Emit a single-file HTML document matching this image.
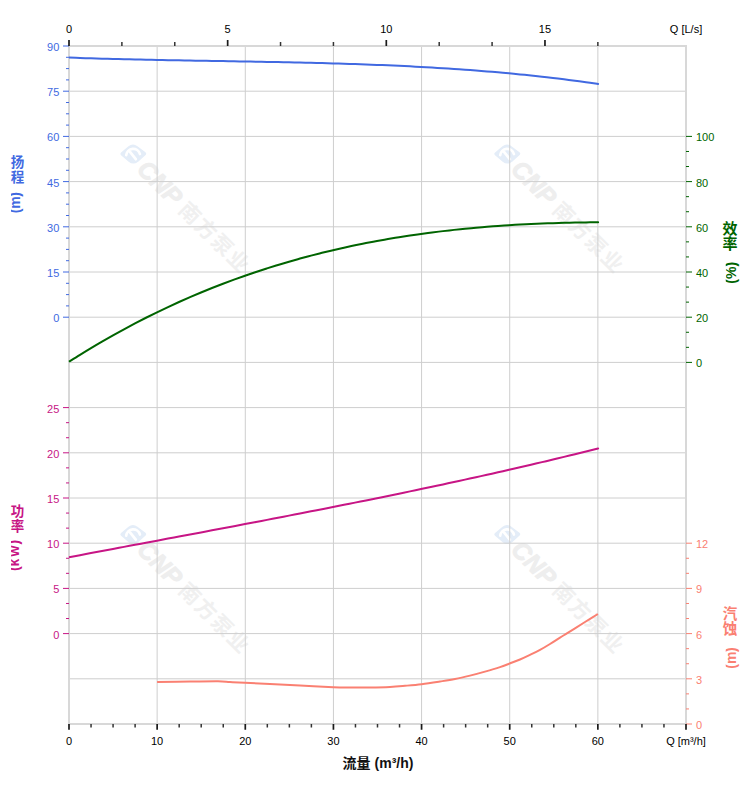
<!DOCTYPE html>
<html lang="zh"><head><meta charset="utf-8"><title>Pump performance curve</title>
<style>html,body{margin:0;padding:0;background:#fff}svg{display:block}text{font-family:"Liberation Sans",sans-serif}text.cjk{font-family:"Liberation Sans","Noto Sans CJK SC",sans-serif}</style>
</head><body>
<svg width="752" height="797" viewBox="0 0 752 797">
<rect width="752" height="797" fill="#fff"/>
<g transform="translate(0 0) rotate(45)"><g transform="rotate(-45)"><path d="M122.2 153.8L129.6 147.6Q132.9 145 136.4 147.6L144.4 153.6L137 160.3Q133.3 163.2 129.8 160.3Z" fill="#e4edf8" stroke="#e4edf8" stroke-width="3.6" stroke-linejoin="round"/><path d="M126.2 155.2A7 7 0 0 1 139.9 154M130 151.9L135.8 159.2" fill="none" stroke="#fff" stroke-width="2.7" stroke-linecap="round"/></g><text x="216.5" y="24.6" font-size="24.5" font-weight="bold" font-style="italic" fill="#eeeeee" stroke="#eeeeee" stroke-width="0.9">CNP</text><text class="cjk" x="274.5" y="23.8" font-size="21" font-weight="bold" letter-spacing="1.7" fill="#f0f0f0">南方泵业</text></g>
<g transform="translate(374 0) rotate(45)"><g transform="rotate(-45)"><path d="M122.2 153.8L129.6 147.6Q132.9 145 136.4 147.6L144.4 153.6L137 160.3Q133.3 163.2 129.8 160.3Z" fill="#e4edf8" stroke="#e4edf8" stroke-width="3.6" stroke-linejoin="round"/><path d="M126.2 155.2A7 7 0 0 1 139.9 154M130 151.9L135.8 159.2" fill="none" stroke="#fff" stroke-width="2.7" stroke-linecap="round"/></g><text x="216.5" y="24.6" font-size="24.5" font-weight="bold" font-style="italic" fill="#eeeeee" stroke="#eeeeee" stroke-width="0.9">CNP</text><text class="cjk" x="274.5" y="23.8" font-size="21" font-weight="bold" letter-spacing="1.7" fill="#f0f0f0">南方泵业</text></g>
<g transform="translate(0 380.5) rotate(45)"><g transform="rotate(-45)"><path d="M122.2 153.8L129.6 147.6Q132.9 145 136.4 147.6L144.4 153.6L137 160.3Q133.3 163.2 129.8 160.3Z" fill="#e4edf8" stroke="#e4edf8" stroke-width="3.6" stroke-linejoin="round"/><path d="M126.2 155.2A7 7 0 0 1 139.9 154M130 151.9L135.8 159.2" fill="none" stroke="#fff" stroke-width="2.7" stroke-linecap="round"/></g><text x="216.5" y="24.6" font-size="24.5" font-weight="bold" font-style="italic" fill="#eeeeee" stroke="#eeeeee" stroke-width="0.9">CNP</text><text class="cjk" x="274.5" y="23.8" font-size="21" font-weight="bold" letter-spacing="1.7" fill="#f0f0f0">南方泵业</text></g>
<g transform="translate(374 380.5) rotate(45)"><g transform="rotate(-45)"><path d="M122.2 153.8L129.6 147.6Q132.9 145 136.4 147.6L144.4 153.6L137 160.3Q133.3 163.2 129.8 160.3Z" fill="#e4edf8" stroke="#e4edf8" stroke-width="3.6" stroke-linejoin="round"/><path d="M126.2 155.2A7 7 0 0 1 139.9 154M130 151.9L135.8 159.2" fill="none" stroke="#fff" stroke-width="2.7" stroke-linecap="round"/></g><text x="216.5" y="24.6" font-size="24.5" font-weight="bold" font-style="italic" fill="#eeeeee" stroke="#eeeeee" stroke-width="0.9">CNP</text><text class="cjk" x="274.5" y="23.8" font-size="21" font-weight="bold" letter-spacing="1.7" fill="#f0f0f0">南方泵业</text></g>
<path d="M157.14 46V724M245.29 46V724M333.43 46V724M421.57 46V724M509.71 46V724M597.86 46V724M69 91.2H686M69 136.4H686M69 181.6H686M69 226.8H686M69 272H686M69 317.2H686M69 362.4H686M69 407.6H686M69 452.8H686M69 498H686M69 543.2H686M69 588.4H686M69 633.6H686M69 678.8H686" stroke="#cecece" stroke-width="1" fill="none"/>
<rect x="69" y="46" width="617" height="678" fill="none" stroke="#d8d8d8" stroke-width="2"/>
<path d="M63 46H69M66 57.3H69M66 68.6H69M66 79.9H69M63 91.2H69M66 102.5H69M66 113.8H69M66 125.1H69M63 136.4H69M66 147.7H69M66 159H69M66 170.3H69M63 181.6H69M66 192.9H69M66 204.2H69M66 215.5H69M63 226.8H69M66 238.1H69M66 249.4H69M66 260.7H69M63 272H69M66 283.3H69M66 294.6H69M66 305.9H69M63 317.2H69" stroke="#4169E1" stroke-width="1" fill="none"/>
<g font-size="11" fill="#4169E1"><text x="59.3" y="50.9" text-anchor="end">90</text><text x="59.3" y="96.1" text-anchor="end">75</text><text x="59.3" y="141.3" text-anchor="end">60</text><text x="59.3" y="186.5" text-anchor="end">45</text><text x="59.3" y="231.7" text-anchor="end">30</text><text x="59.3" y="276.9" text-anchor="end">15</text><text x="59.3" y="322.1" text-anchor="end">0</text></g>
<path d="M686 136.4H692M686 151.47H689M686 166.53H689M686 181.6H692M686 196.67H689M686 211.73H689M686 226.8H692M686 241.87H689M686 256.93H689M686 272H692M686 287.07H689M686 302.13H689M686 317.2H692M686 332.27H689M686 347.33H689M686 362.4H692" stroke="#006400" stroke-width="1" fill="none"/>
<g font-size="11" fill="#006400"><text x="696" y="141.3">100</text><text x="696" y="186.5">80</text><text x="696" y="231.7">60</text><text x="696" y="276.9">40</text><text x="696" y="322.1">20</text><text x="696" y="367.3">0</text></g>
<path d="M63 407.6H69M66 422.67H69M66 437.73H69M63 452.8H69M66 467.87H69M66 482.93H69M63 498H69M66 513.07H69M66 528.13H69M63 543.2H69M66 558.27H69M66 573.33H69M63 588.4H69M66 603.47H69M66 618.53H69M63 633.6H69" stroke="#C71585" stroke-width="1" fill="none"/>
<g font-size="11" fill="#C71585"><text x="59.3" y="412.5" text-anchor="end">25</text><text x="59.3" y="457.7" text-anchor="end">20</text><text x="59.3" y="502.9" text-anchor="end">15</text><text x="59.3" y="548.1" text-anchor="end">10</text><text x="59.3" y="593.3" text-anchor="end">5</text><text x="59.3" y="638.5" text-anchor="end">0</text></g>
<path d="M686 543.2H692M686 558.27H689M686 573.33H689M686 588.4H692M686 603.47H689M686 618.53H689M686 633.6H692M686 648.67H689M686 663.73H689M686 678.8H692M686 693.87H689M686 708.93H689M686 724H692" stroke="#FA8072" stroke-width="1" fill="none"/>
<g font-size="11" fill="#FA8072"><text x="696" y="548.1">12</text><text x="696" y="593.3">9</text><text x="696" y="638.5">6</text><text x="696" y="683.7">3</text><text x="696" y="728.9">0</text></g>
<path d="M69 724V729.7M157.14 724V729.7M245.29 724V729.7M333.43 724V729.7M421.57 724V729.7M509.71 724V729.7M597.86 724V729.7M686 724V729.7M69 40V46M227.66 40V46M386.31 40V46M544.97 40V46" stroke="#1a1a1a" stroke-width="1.7" fill="none"/>
<path d="M91.04 724V727.6M113.07 724V727.6M135.11 724V727.6M179.18 724V727.6M201.21 724V727.6M223.25 724V727.6M267.32 724V727.6M289.36 724V727.6M311.39 724V727.6M355.46 724V727.6M377.5 724V727.6M399.54 724V727.6M443.61 724V727.6M465.64 724V727.6M487.68 724V727.6M531.75 724V727.6M553.79 724V727.6M575.82 724V727.6M619.89 724V727.6M641.93 724V727.6M663.96 724V727.6M121.89 42V46M174.77 42V46M280.54 42V46M333.43 42V46M439.2 42V46M492.09 42V46M597.86 42V46" stroke="#333" stroke-width="1.5" fill="none"/>
<g font-size="11" fill="#000"><text x="69" y="745" text-anchor="middle">0</text><text x="157.14" y="745" text-anchor="middle">10</text><text x="245.29" y="745" text-anchor="middle">20</text><text x="333.43" y="745" text-anchor="middle">30</text><text x="421.57" y="745" text-anchor="middle">40</text><text x="509.71" y="745" text-anchor="middle">50</text><text x="597.86" y="745" text-anchor="middle">60</text><text x="686" y="745" text-anchor="middle">Q [m³/h]</text><text x="69" y="33" text-anchor="middle">0</text><text x="227.66" y="33" text-anchor="middle">5</text><text x="386.31" y="33" text-anchor="middle">10</text><text x="544.97" y="33" text-anchor="middle">15</text><text x="686" y="33" text-anchor="middle">Q [L/s]</text></g>
<path d="M69 57.61C70.83 57.67 76.33 57.87 80 57.99C83.67 58.11 87.33 58.23 91 58.34C94.67 58.45 98.33 58.56 102 58.66C105.67 58.77 109.33 58.87 113 58.96C116.67 59.06 120.33 59.15 124 59.24C127.67 59.33 131.33 59.41 135 59.49C138.67 59.58 142.33 59.66 146 59.73C149.67 59.81 153.33 59.88 157 59.96C160.67 60.03 164.33 60.1 168 60.17C171.67 60.24 175.33 60.3 179 60.37C182.67 60.43 186.33 60.5 190 60.56C193.67 60.62 197.33 60.68 201 60.75C204.67 60.81 208.33 60.87 212 60.93C215.67 60.99 219.33 61.05 223 61.11C226.67 61.17 230.33 61.23 234 61.29C237.67 61.36 241.33 61.42 245 61.48C248.67 61.54 252.33 61.61 256 61.68C259.67 61.74 263.33 61.81 267 61.88C270.67 61.95 274.33 62.02 278 62.09C281.67 62.16 285.33 62.24 289 62.32C292.67 62.4 296.33 62.48 300 62.56C303.67 62.64 307.33 62.73 311 62.82C314.67 62.91 318.33 63 322 63.1C325.67 63.2 329.33 63.3 333 63.4C336.67 63.51 340.33 63.62 344 63.73C347.67 63.85 351.33 63.97 355 64.09C358.67 64.21 362.33 64.34 366 64.48C369.67 64.61 373.33 64.75 377 64.9C380.67 65.04 384.33 65.19 388 65.35C391.67 65.51 395.33 65.67 399 65.84C402.67 66.01 406.33 66.19 410 66.37C413.67 66.56 417.33 66.75 421 66.95C424.67 67.14 428.33 67.35 432 67.56C435.67 67.78 439.33 68 443 68.23C446.67 68.46 450.33 68.69 454 68.94C457.67 69.19 461.33 69.44 465 69.71C468.67 69.97 472.33 70.24 476 70.52C479.67 70.81 483.33 71.1 487 71.4C490.67 71.7 494.33 72.01 498 72.33C501.67 72.65 505.33 72.98 509 73.33C512.67 73.67 516.33 74.02 520 74.39C523.67 74.75 527.33 75.12 531 75.51C534.67 75.89 538.33 76.29 542 76.7C545.67 77.11 549.33 77.53 553 77.96C556.67 78.4 560.33 78.84 564 79.3C567.67 79.76 571.33 80.23 575 80.71C578.67 81.19 582.33 81.69 586 82.2C589.67 82.71 595.02 83.48 597 83.77C598.98 84.05 597.75 83.88 597.9 83.9" stroke="#4169E1" stroke-width="2" fill="none" stroke-linecap="butt"/>
<path d="M69 361.75C70.83 360.59 76.33 357.08 80 354.81C83.67 352.53 87.33 350.29 91 348.09C94.67 345.89 98.33 343.72 102 341.6C105.67 339.47 109.33 337.38 113 335.32C116.67 333.26 120.33 331.24 124 329.26C127.67 327.27 131.33 325.32 135 323.4C138.67 321.49 142.33 319.61 146 317.76C149.67 315.91 153.33 314.1 157 312.32C160.67 310.54 164.33 308.79 168 307.08C171.67 305.36 175.33 303.68 179 302.03C182.67 300.38 186.33 298.77 190 297.18C193.67 295.6 197.33 294.04 201 292.52C204.67 291 208.33 289.51 212 288.05C215.67 286.59 219.33 285.16 223 283.76C226.67 282.36 230.33 280.99 234 279.65C237.67 278.31 241.33 277 245 275.71C248.67 274.43 252.33 273.18 256 271.95C259.67 270.73 263.33 269.53 267 268.36C270.67 267.19 274.33 266.05 278 264.93C281.67 263.82 285.33 262.73 289 261.67C292.67 260.61 296.33 259.58 300 258.57C303.67 257.56 307.33 256.58 311 255.62C314.67 254.66 318.33 253.73 322 252.82C325.67 251.92 329.33 251.03 333 250.17C336.67 249.32 340.33 248.48 344 247.67C347.67 246.86 351.33 246.08 355 245.31C358.67 244.55 362.33 243.81 366 243.09C369.67 242.37 373.33 241.68 377 241C380.67 240.33 384.33 239.68 388 239.05C391.67 238.42 395.33 237.81 399 237.22C402.67 236.63 406.33 236.06 410 235.52C413.67 234.97 417.33 234.44 421 233.94C424.67 233.43 428.33 232.94 432 232.47C435.67 232 439.33 231.55 443 231.12C446.67 230.69 450.33 230.28 454 229.88C457.67 229.49 461.33 229.11 465 228.75C468.67 228.39 472.33 228.05 476 227.72C479.67 227.4 483.33 227.09 487 226.8C490.67 226.51 494.33 226.23 498 225.97C501.67 225.71 505.33 225.46 509 225.23C512.67 225 516.33 224.79 520 224.59C523.67 224.38 527.33 224.2 531 224.03C534.67 223.85 538.33 223.7 542 223.55C545.67 223.4 549.33 223.27 553 223.15C556.67 223.03 560.33 222.93 564 222.83C567.67 222.74 571.33 222.66 575 222.59C578.67 222.52 582.33 222.46 586 222.41C589.67 222.36 595.02 222.32 597 222.3C598.98 222.28 597.75 222.29 597.9 222.29" stroke="#006400" stroke-width="2" fill="none" stroke-linecap="butt"/>
<path d="M69 557.23C70.83 556.88 76.33 555.84 80 555.15C83.67 554.45 87.33 553.76 91 553.07C94.67 552.38 98.33 551.68 102 550.99C105.67 550.3 109.33 549.61 113 548.92C116.67 548.23 120.33 547.54 124 546.86C127.67 546.17 131.33 545.48 135 544.79C138.67 544.1 142.33 543.41 146 542.73C149.67 542.04 153.33 541.35 157 540.66C160.67 539.98 164.33 539.29 168 538.6C171.67 537.91 175.33 537.22 179 536.54C182.67 535.85 186.33 535.16 190 534.47C193.67 533.78 197.33 533.09 201 532.4C204.67 531.71 208.33 531.02 212 530.32C215.67 529.63 219.33 528.94 223 528.25C226.67 527.55 230.33 526.86 234 526.16C237.67 525.47 241.33 524.77 245 524.07C248.67 523.37 252.33 522.68 256 521.98C259.67 521.28 263.33 520.57 267 519.87C270.67 519.17 274.33 518.46 278 517.76C281.67 517.05 285.33 516.34 289 515.63C292.67 514.92 296.33 514.21 300 513.5C303.67 512.79 307.33 512.07 311 511.35C314.67 510.64 318.33 509.92 322 509.19C325.67 508.47 329.33 507.75 333 507.02C336.67 506.3 340.33 505.57 344 504.84C347.67 504.11 351.33 503.37 355 502.64C358.67 501.9 362.33 501.16 366 500.42C369.67 499.68 373.33 498.94 377 498.19C380.67 497.44 384.33 496.7 388 495.94C391.67 495.19 395.33 494.43 399 493.67C402.67 492.92 406.33 492.15 410 491.39C413.67 490.62 417.33 489.85 421 489.08C424.67 488.31 428.33 487.53 432 486.75C435.67 485.98 439.33 485.19 443 484.41C446.67 483.62 450.33 482.83 454 482.03C457.67 481.24 461.33 480.44 465 479.64C468.67 478.84 472.33 478.03 476 477.22C479.67 476.41 483.33 475.6 487 474.78C490.67 473.96 494.33 473.14 498 472.31C501.67 471.48 505.33 470.65 509 469.81C512.67 468.98 516.33 468.13 520 467.29C523.67 466.44 527.33 465.59 531 464.74C534.67 463.88 538.33 463.02 542 462.15C545.67 461.29 549.33 460.42 553 459.54C556.67 458.67 560.33 457.79 564 456.9C567.67 456.01 571.33 455.12 575 454.23C578.67 453.33 582.33 452.43 586 451.52C589.67 450.61 595.02 449.27 597 448.78C598.98 448.28 597.75 448.59 597.9 448.55" stroke="#C71585" stroke-width="2" fill="none" stroke-linecap="butt"/>
<path d="M157.1 682C162.58 681.93 179.85 681.72 190 681.6C200.15 681.48 211.33 681.23 218 681.3C224.67 681.37 225.5 681.75 230 682C234.5 682.25 238.33 682.47 245 682.8C251.67 683.13 260.83 683.53 270 684C279.17 684.47 289.43 685.08 300 685.6C310.57 686.12 325.07 686.85 333.4 687.15C341.73 687.45 343.9 687.36 350 687.4C356.1 687.44 363.33 687.48 370 687.4C376.67 687.32 384.17 687.17 390 686.9C395.83 686.63 399.73 686.25 405 685.8C410.27 685.35 415.77 684.92 421.6 684.2C427.43 683.48 434.43 682.37 440 681.5C445.57 680.63 450 679.98 455 679C460 678.02 465 676.83 470 675.6C475 674.37 480 673.02 485 671.6C490 670.18 495.88 668.45 500 667.1C504.12 665.75 506.37 664.77 509.7 663.5C513.03 662.23 516.62 660.93 520 659.5C523.38 658.07 526.67 656.5 530 654.9C533.33 653.3 536.67 651.72 540 649.9C543.33 648.08 546.67 646.05 550 644C553.33 641.95 557.25 639.33 560 637.6C562.75 635.87 564 635.15 566.5 633.6C569 632.05 571.92 630.23 575 628.3C578.08 626.37 581.18 624.38 585 622C588.82 619.62 595.75 615.33 597.9 614" stroke="#FA8072" stroke-width="2" fill="none" stroke-linecap="butt"/>
<clipPath id="cl"><rect x="10.9" y="0" width="60" height="797"/></clipPath>
<clipPath id="cr"><rect x="725.7" y="0" width="27" height="797"/></clipPath>
<text class="cjk" x="17.4" y="167" text-anchor="middle" font-size="13.5" font-weight="bold" fill="#4169E1">扬</text>
<text class="cjk" x="17.4" y="182" text-anchor="middle" font-size="13.5" font-weight="bold" fill="#4169E1">程</text>
<g clip-path="url(#cl)"><text transform="translate(20 213.3) rotate(-90)" font-size="14" font-weight="bold" letter-spacing="0" dx="0 0 -0.6" fill="#4169E1">(m)</text></g>
<text class="cjk" x="730" y="234" text-anchor="middle" font-size="15" font-weight="bold" fill="#006400">效</text>
<text class="cjk" x="730" y="248.6" text-anchor="middle" font-size="15" font-weight="bold" fill="#006400">率</text>
<g clip-path="url(#cr)"><text transform="translate(736 283.7) rotate(-90)" font-size="14" font-weight="bold" letter-spacing="0" fill="#006400">(%)</text></g>
<text class="cjk" x="17.4" y="516" text-anchor="middle" font-size="13.5" font-weight="bold" fill="#C71585">功</text>
<text class="cjk" x="17.4" y="530.8" text-anchor="middle" font-size="13.5" font-weight="bold" fill="#C71585">率</text>
<g clip-path="url(#cl)"><text transform="translate(19.1 570.9) rotate(-90)" font-size="14" font-weight="bold" letter-spacing="0.7" dx="0 -1 1.6 0.4" fill="#C71585">(kw)</text></g>
<text class="cjk" x="730" y="619.2" text-anchor="middle" font-size="14.5" font-weight="bold" fill="#FA8072">汽</text>
<text class="cjk" x="730" y="634.3" text-anchor="middle" font-size="14.5" font-weight="bold" fill="#FA8072">蚀</text>
<g clip-path="url(#cr)"><text transform="translate(736 668.7) rotate(-90)" font-size="14" font-weight="bold" letter-spacing="0" dx="0 0 -0.5" fill="#FA8072">(m)</text></g>
<text class="cjk" x="342.6" y="767.8" font-size="14" font-weight="bold" fill="#111">流量</text>
<text x="374.6" y="767.8" font-size="14" font-weight="bold" fill="#111">(m³/h)</text>
</svg></body></html>
